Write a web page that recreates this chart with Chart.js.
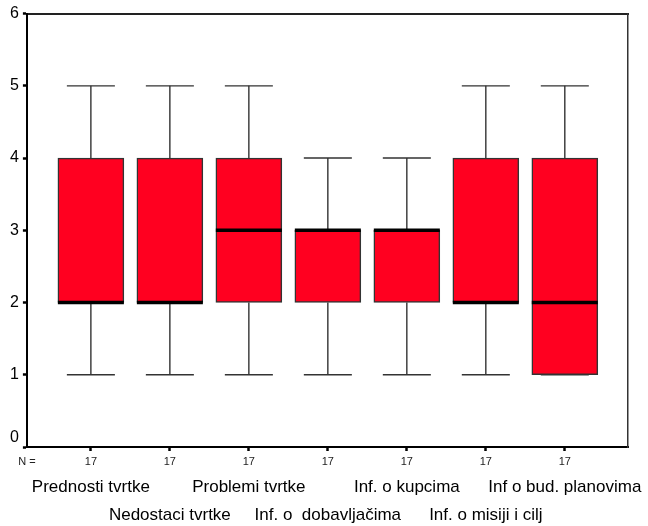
<!DOCTYPE html>
<html><head><meta charset="utf-8">
<script src="https://cdn.jsdelivr.net/npm/chart.js@4"></script>
<style>html,body{margin:0;padding:0;background:#fff}#w{width:648px;height:526px;position:relative}</style>
</head><body><div id="w"><canvas id="c"></canvas></div>
<script>
const categories = ["Prednosti tvrtke","Nedostaci tvrtke","Problemi tvrtke","Inf. o  dobavljačima","Inf. o kupcima","Inf. o misiji i cilj","Inf o bud. planovima"];
const counts  = [17,17,17,17,17,17,17];
const mins    = [1,1,1,1,1,1,1];
const q1s     = [2,2,2,2,2,2,1];
const medians = [2,2,3,3,3,2,2];
const q3s     = [4,4,4,3,3,4,4];
const maxs    = [5,5,5,4,4,5,5];
const yTicks  = [0,1,2,3,4,5,6];

const X_MIN = 0.19, X_MAX = 7.8;
const CAP = 0.304, MED = 0.418;
const xs = categories.map((_, i) => i + 1);
const FONT = "'Liberation Sans', Arial, sans-serif";

const boxData = xs.map((x, i) => ({x: x, y: [q1s[i], q3s[i]]}));
const whiskerData = xs.flatMap((x, i) => [
  {x: x, y: mins[i]}, {x: x, y: q1s[i]}, {x: x, y: null},
  {x: x, y: q3s[i]}, {x: x, y: maxs[i]}, {x: x, y: null}
]);
const capData = xs.flatMap((x, i) => [
  {x: x - CAP, y: mins[i]}, {x: x + CAP, y: mins[i]}, {x: x, y: null},
  {x: x - CAP, y: maxs[i]}, {x: x + CAP, y: maxs[i]}, {x: x, y: null}
]);
const medData = xs.flatMap((x, i) => [
  {x: x - MED, y: medians[i]}, {x: x + MED, y: medians[i]}, {x: x, y: null}
]);

const lineBase = {type: 'line', pointRadius: 0, spanGaps: false, fill: false, xAxisID: 'x', yAxisID: 'y', tension: 0};

new Chart(document.getElementById('c'), {
  type: 'bar',
  data: {
    datasets: [
      {...lineBase, data: medData, borderColor: '#000', borderWidth: 3.5, order: 0},
      {type: 'bar', data: boxData, backgroundColor: '#ff0020', borderColor: '#333', borderWidth: 1.5,
       borderSkipped: false, barThickness: 66, xAxisID: 'x', yAxisID: 'y', order: 2},
      {...lineBase, data: whiskerData, borderColor: '#333', borderWidth: 1.4, order: 3},
      {...lineBase, data: capData, borderColor: '#333', borderWidth: 1.4, order: 3}
    ]
  },
  options: {
    responsive: true, maintainAspectRatio: false, animation: false,
    layout: {padding: {left: 6, right: 20, top: 6, bottom: 0}},
    plugins: {legend: {display: false}, tooltip: {enabled: false}},
    scales: {
      x: {
        type: 'linear', position: 'bottom', min: X_MIN, max: X_MAX, offset: false,
        afterBuildTicks: s => { s.ticks = [{value: X_MIN}].concat(xs.map(v => ({value: v}))); },
        ticks: {autoSkip: false, maxRotation: 0, padding: 5, color: '#222',
          font: {family: FONT, size: 11, lineHeight: 12/11},
          callback: (v, i) => i === 0 ? 'N =' : String(counts[i - 1])},
        grid: {offset: false, drawOnChartArea: false, drawTicks: true, tickLength: 4, tickWidth: 2.5,
          color: c => (c.tick && c.tick.value < 0.5) ? 'rgba(0,0,0,0)' : '#000'},
        border: {display: true, color: '#000', width: 2},
        afterFit: s => { s.height = 26; }
      },
      x2: {
        type: 'linear', position: 'bottom', min: X_MIN, max: X_MAX, offset: false,
        afterBuildTicks: s => { s.ticks = xs.map(v => ({value: v})); },
        ticks: {autoSkip: false, maxRotation: 0, padding: 0, color: '#000',
          font: {family: FONT, size: 17, lineHeight: 28/17},
          callback: (v, i) => i % 2 === 0 ? [categories[i]] : ['', categories[i]]},
        grid: {display: false, drawTicks: false, offset: false},
        border: {display: false},
        afterFit: s => { s.height = 53; }
      },
      xTop: {
        type: 'linear', position: 'top', min: X_MIN, max: X_MAX, offset: false,
        ticks: {display: false}, grid: {display: false, drawTicks: false},
        border: {display: true, color: '#222', width: 2}
      },
      y: {
        type: 'linear', position: 'left', min: 0, max: 6,
        afterBuildTicks: s => { s.ticks = yTicks.map(v => ({value: v})); },
        ticks: {padding: 4, color: '#000', font: {family: FONT, size: 16},
          callback: v => v === 0 ? ['0', ''] : String(v)},
        grid: {drawOnChartArea: false, drawTicks: true, tickLength: 4, tickWidth: 2.5, color: '#000'},
        border: {display: true, color: '#000', width: 2}
      },
      yR: {
        type: 'linear', position: 'right', min: 0, max: 6,
        ticks: {display: false}, grid: {display: false, drawTicks: false},
        border: {display: true, color: '#333', width: 1.5}
      }
    }
  }
});
</script>
</body></html>
